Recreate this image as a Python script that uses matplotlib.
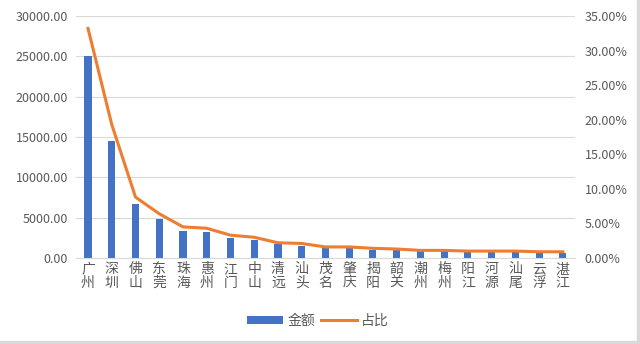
import matplotlib
matplotlib.use("Agg")
import matplotlib.pyplot as plt
from matplotlib.ticker import FuncFormatter
from matplotlib.patches import Rectangle
import numpy as np

plt.rcParams['font.family'] = ['Noto Sans CJK SC', 'DejaVu Sans']

# city names and values
cities = ["广州", "深圳", "佛山", "东莞", "珠海", "惠州", "江门", "中山", "清远", "汕头", "茂名",
          "肇庆", "揭阳", "韶关", "潮州", "梅州", "阳江", "河源", "汕尾", "云浮", "湛江"]
amount = [25100, 14500, 6650, 4780, 3350, 3220, 2480, 2220, 1690, 1530, 1200,
          1200, 1030, 950, 830, 830, 750, 750, 720, 700, 650]
share = [33.2, 19.3, 8.8, 6.4, 4.5, 4.3, 3.3, 3.0, 2.2, 2.1, 1.6,
         1.6, 1.4, 1.3, 1.1, 1.1, 1.0, 1.0, 1.0, 0.9, 0.9]

blue = "#4472C4"
orange = "#ED7D31"
grey = "#595959"

fig = plt.figure(figsize=(6.4, 3.44), dpi=100)
# light grey frame strips at the right and bottom edges
fig.patches.append(Rectangle((0.995, 0), 0.005, 1, transform=fig.transFigure,
                             color="#D9D9D9", zorder=0))
fig.patches.append(Rectangle((0, 0), 1, 0.009, transform=fig.transFigure,
                             color="#D9D9D9", zorder=0))

ax = fig.add_axes([0.119, 0.25, 0.779, 0.7035])
x = np.arange(len(cities))

ax.bar(x, amount, width=0.3, color=blue, label="金额", zorder=2)
ax.set_ylim(0, 30000)
ax.set_yticks(range(0, 30001, 5000))
ax.yaxis.set_major_formatter(FuncFormatter(lambda v, p: f"{v:.2f}"))
ax.set_xlim(-0.5, len(cities) - 0.5)
ax.set_xticks(x)
ax.set_xticklabels(["\n".join(c) for c in cities], color=grey, linespacing=0.95)
ax.grid(axis="y", color="#D9D9D9", linewidth=0.8, zorder=0)
for s in ["top", "left", "right"]:
    ax.spines[s].set_visible(False)
ax.spines["bottom"].set_color("#D9D9D9")
ax.tick_params(axis="y", length=0, labelsize=9, colors=grey, pad=6)
ax.tick_params(axis="x", length=0, pad=3, labelsize=10, colors=grey)

ax2 = ax.twinx()
ax2.plot(x, share, color=orange, linewidth=2.2, label="占比", zorder=3)
ax2.set_ylim(0, 35)
ax2.set_yticks(range(0, 36, 5))
ax2.yaxis.set_major_formatter(FuncFormatter(lambda v, p: f"{v:.2f}%"))
for s in ["top", "left", "right", "bottom"]:
    ax2.spines[s].set_visible(False)
ax2.tick_params(axis="y", length=0, labelsize=9, colors=grey, pad=7)

h1, l1 = ax.get_legend_handles_labels()
h2, l2 = ax2.get_legend_handles_labels()
fig.legend(h1 + h2, l1 + l2, loc="center", bbox_to_anchor=(0.497, 0.068), ncol=2,
           frameon=False, fontsize=10, handlelength=2.6, handleheight=0.5,
           columnspacing=0.4, handletextpad=0.3, labelcolor=grey)

fig.savefig("out.png", dpi=100)
